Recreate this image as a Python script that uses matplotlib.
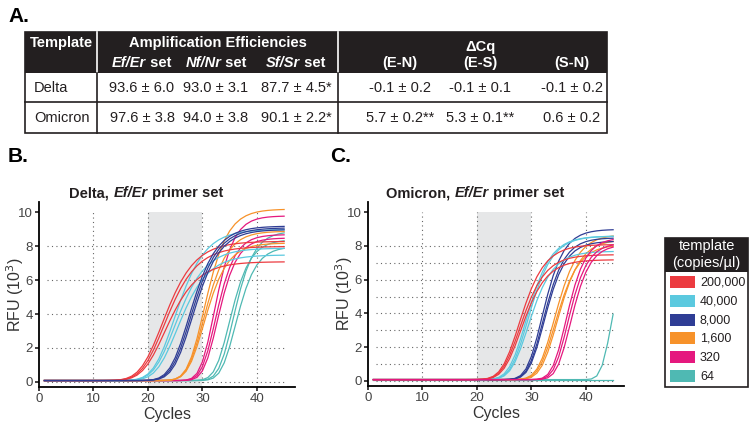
import numpy as np
import matplotlib
matplotlib.use('Agg')
import matplotlib.pyplot as plt
from matplotlib.patches import Rectangle

plt.rcParams['font.family'] = ['Liberation Sans', 'DejaVu Sans']

# table A
row_names = ['Delta', 'Omicron']
eff_cols = ['Ef/Er set', 'Nf/Nr set', 'Sf/Sr set']
dcq_cols = ['(E-N)', '(E-S)', '(S-N)']
eff_vals = [['93.6 ± 6.0', '93.0 ± 3.1', '87.7 ± 4.5*'],
            ['97.6 ± 3.8', '94.0 ± 3.8', '90.1 ± 2.2*']]
dcq_vals = [['-0.1 ± 0.2', '-0.1 ± 0.1', '-0.1 ± 0.2'],
            ['5.7 ± 0.2**', '5.3 ± 0.1**', '0.6 ± 0.2']]

# legend groups
templates = ['200,000', '40,000', '8,000', '1,600', '320', '64']
colors = ['#ec3b40', '#5bc9df', '#2f3d95', '#f7922a', '#e5187e', '#4fb9b3']

# amplification curves:
# cycle where each replicate crosses 2 (x10^3 RFU), its plateau, and group steepness
delta_x2 = [[20.9, 21.3, 21.8], [23.0, 23.4, 24.0], [25.8, 26.1, 26.4],
            [28.6, 28.8, 29.0], [30.8, 31.2, 31.6], [33.8, 34.4, 35.0]]
delta_top = [[8.2, 7.9, 7.0], [8.9, 7.8, 7.4], [9.1, 9.0, 8.9],
             [10.1, 8.8, 8.1], [9.7, 8.6, 8.4], [8.3, 8.8, 7.9]]
delta_slope = [3.3, 3.1, 2.8, 2.4, 2.0, 2.1]

omicron_x2 = [[26.4, 26.7, 27.0], [27.6, 27.9, 28.2], [30.6, 30.9, 31.1],
              [32.8, 33.1, 33.4], [35.2, 35.6, 36.1], [43.9, None]]
omicron_top = [[8.0, 7.4, 7.1], [8.5, 8.5, 7.6], [8.9, 8.4, 8.2],
               [8.6, 8.0, 8.3], [8.4, 8.1, 8.0], [8.0, 0.0]]
omicron_slope = [2.6, 2.5, 2.2, 2.4, 2.0, 1.5]

cycles = np.arange(1, 46)
baseline = 0.08
shape_k = 4.0

W, H = 750, 424
fig = plt.figure(figsize=(7.5, 4.24), dpi=100)
renderer = fig.canvas.get_renderer()

# overlay axes in pixel coordinates for table, labels and legend
tab = fig.add_axes([0, 0, 1, 1])
tab.set_xlim(0, W)
tab.set_ylim(H, 0)
tab.axis('off')
tab.set_zorder(5)


def run_text(x, y, parts, center=False, **kw):
    # draw pieces of text side by side (for mixed italic / upright)
    arts = []
    cx = x
    for s, st in parts:
        t = tab.text(cx, y, s, style=st, ha='left', va='center', **kw)
        bb = t.get_window_extent(renderer)
        cx += bb.width
        arts.append(t)
    if center:
        shift = (cx - x) / 2
        for t in arts:
            px, py = t.get_position()
            t.set_position((px - shift, py))


# ---------- panel A ----------
tab.text(8, 16, 'A.', fontsize=15, fontweight='bold', va='center')
x0, x1, xd, xr = 25, 97, 338, 607
yh0, yh1, yrow, yb = 32, 73, 102, 133
tab.add_patch(Rectangle((x0, yh0), xr - x0, yh1 - yh0, color='#231f20', lw=0))
tab.add_patch(Rectangle((x0, yh0), xr - x0, yb - yh0, fill=False, ec='#231f20', lw=1.2))
tab.plot([x1, x1], [yh0, yh1], color='white', lw=1.2)
tab.plot([xd, xd], [yh0, yh1], color='white', lw=1.2)
tab.plot([x1, x1], [yh1, yb], color='#231f20', lw=1.2)
tab.plot([xd, xd], [yh1, yb], color='#231f20', lw=1.2)
tab.plot([x0, xr], [yrow, yrow], color='#231f20', lw=1.2)
hk = dict(color='white', fontsize=10.5, fontweight='bold', ha='center', va='center')
tab.text(61, 43, 'Template', **hk)
tab.text(218, 43, 'Amplification Efficiencies', **hk)
tab.text(480, 47, 'ΔCq', **hk)
eff_x = [142, 216, 296]
dcq_x = [400, 480, 572]
for cx, name in zip(eff_x, eff_cols):
    pre, rest = name.split(' ')
    run_text(cx, 63, [(pre, 'italic'), (' ' + rest, 'normal')], center=True,
             color='white', fontsize=10.5, fontweight='bold')
for cx, name in zip(dcq_x, dcq_cols):
    tab.text(cx, 63, name, **hk)
for i, (ry, rn) in enumerate(zip([88, 118], row_names)):
    tab.text(34, ry, rn, fontsize=10.5, va='center', color='#231f20')
    for cx, v in zip(eff_x, eff_vals[i]):
        tab.text(cx, ry, v, fontsize=10.5, ha='center', va='center', color='#231f20')
    for cx, v in zip(dcq_x, dcq_vals[i]):
        tab.text(cx, ry, v, fontsize=10.5, ha='center', va='center', color='#231f20')


def amp_curve(x2, top, s):
    if x2 is None:
        return np.full(cycles.shape, baseline)
    p2 = (2.0 / top) ** (1 / shape_k)
    mid = x2 - s * np.log(p2 / (1 - p2))
    return baseline + top * (1 / (1 + np.exp(-(cycles - mid) / s))) ** shape_k


def panel(rect, x2s, tops, slopes, hgrid, order):
    ax = fig.add_axes(rect)
    ax.set_xlim(0, 47)
    ax.set_ylim(-0.3, 10.6)
    ax.axvspan(20, 30, ymin=0, ymax=10.3 / 10.9, color='#e6e7e8', lw=0, zorder=0)
    for gx in [10, 20, 30, 40]:
        ax.plot([gx, gx], [-0.3, 10], ls=(0, (1, 3)), color='#666666', lw=0.8, zorder=1)
    for gy in hgrid:
        ax.plot([1.5, 45], [gy, gy], ls=(0, (1, 3)), color='#666666', lw=0.8, zorder=1)
    for g in order:
        for x2, t in zip(x2s[g], tops[g]):
            ax.plot(cycles, amp_curve(x2, t, slopes[g]), color=colors[g], lw=0.9, zorder=2)
    for sp in ['top', 'right']:
        ax.spines[sp].set_visible(False)
    ax.spines['left'].set_linewidth(1.3)
    ax.spines['bottom'].set_linewidth(1.3)
    ax.set_xticks([0, 10, 20, 30, 40])
    ax.set_yticks([0, 2, 4, 6, 8, 10])
    ax.tick_params(labelsize=9.5, length=3, width=1.2, pad=1.5,
                   colors='#231f20', labelcolor='#444444')
    ax.set_xlabel('Cycles', fontsize=11.5, labelpad=1, color='#333333')
    ax.set_ylabel('RFU (10$^3$)', fontsize=11.5, color='#333333')
    ax.yaxis.set_label_coords(-0.05, 0.5)
    return ax


axB = panel([39 / W, 1 - 387 / H, 256 / W, 185 / H], delta_x2, delta_top, delta_slope,
            [0, 2, 4, 6, 8], [5, 4, 3, 1, 0, 2])
axC = panel([368 / W, 1 - 386 / H, 256 / W, 184 / H], omicron_x2, omicron_top, omicron_slope,
            [0, 1, 2, 3, 4, 5, 6, 7, 8], [5, 3, 2, 1, 0, 4])

tab.text(8, 157, 'B.', fontsize=15, fontweight='bold', va='center')
tab.text(330, 157, 'C.', fontsize=15, fontweight='bold', va='center')
tk = dict(fontsize=10.5, fontweight='bold', color='#231f20')
run_text(146, 193, [('Delta, ', 'normal'), ('Ef/Er', 'italic'), (' primer set', 'normal')],
         center=True, **tk)
run_text(475, 193, [('Omicron, ', 'normal'), ('Ef/Er', 'italic'), (' primer set', 'normal')],
         center=True, **tk)

# legend box
lx0, lx1, ly0, lyh, ly1 = 665, 748, 238, 272, 387
tab.add_patch(Rectangle((lx0, ly0), lx1 - lx0, lyh - ly0, color='#231f20', lw=0))
tab.add_patch(Rectangle((lx0, ly0), lx1 - lx0, ly1 - ly0, fill=False, ec='#231f20', lw=1.2))
tab.text((lx0 + lx1) / 2, 246, 'template', color='white', fontsize=10.5, ha='center', va='center')
tab.text((lx0 + lx1) / 2, 263, '(copies/µl)', color='white', fontsize=10.5, ha='center', va='center')
for i, (lab, col) in enumerate(zip(templates, colors)):
    yy = 282 + i * 18.8
    tab.add_patch(Rectangle((670, yy - 6), 25, 12, color=col, lw=0))
    tab.text(700, yy + 0.5, lab, fontsize=9, va='center', color='#231f20')

fig.savefig('out.png', dpi=100)
